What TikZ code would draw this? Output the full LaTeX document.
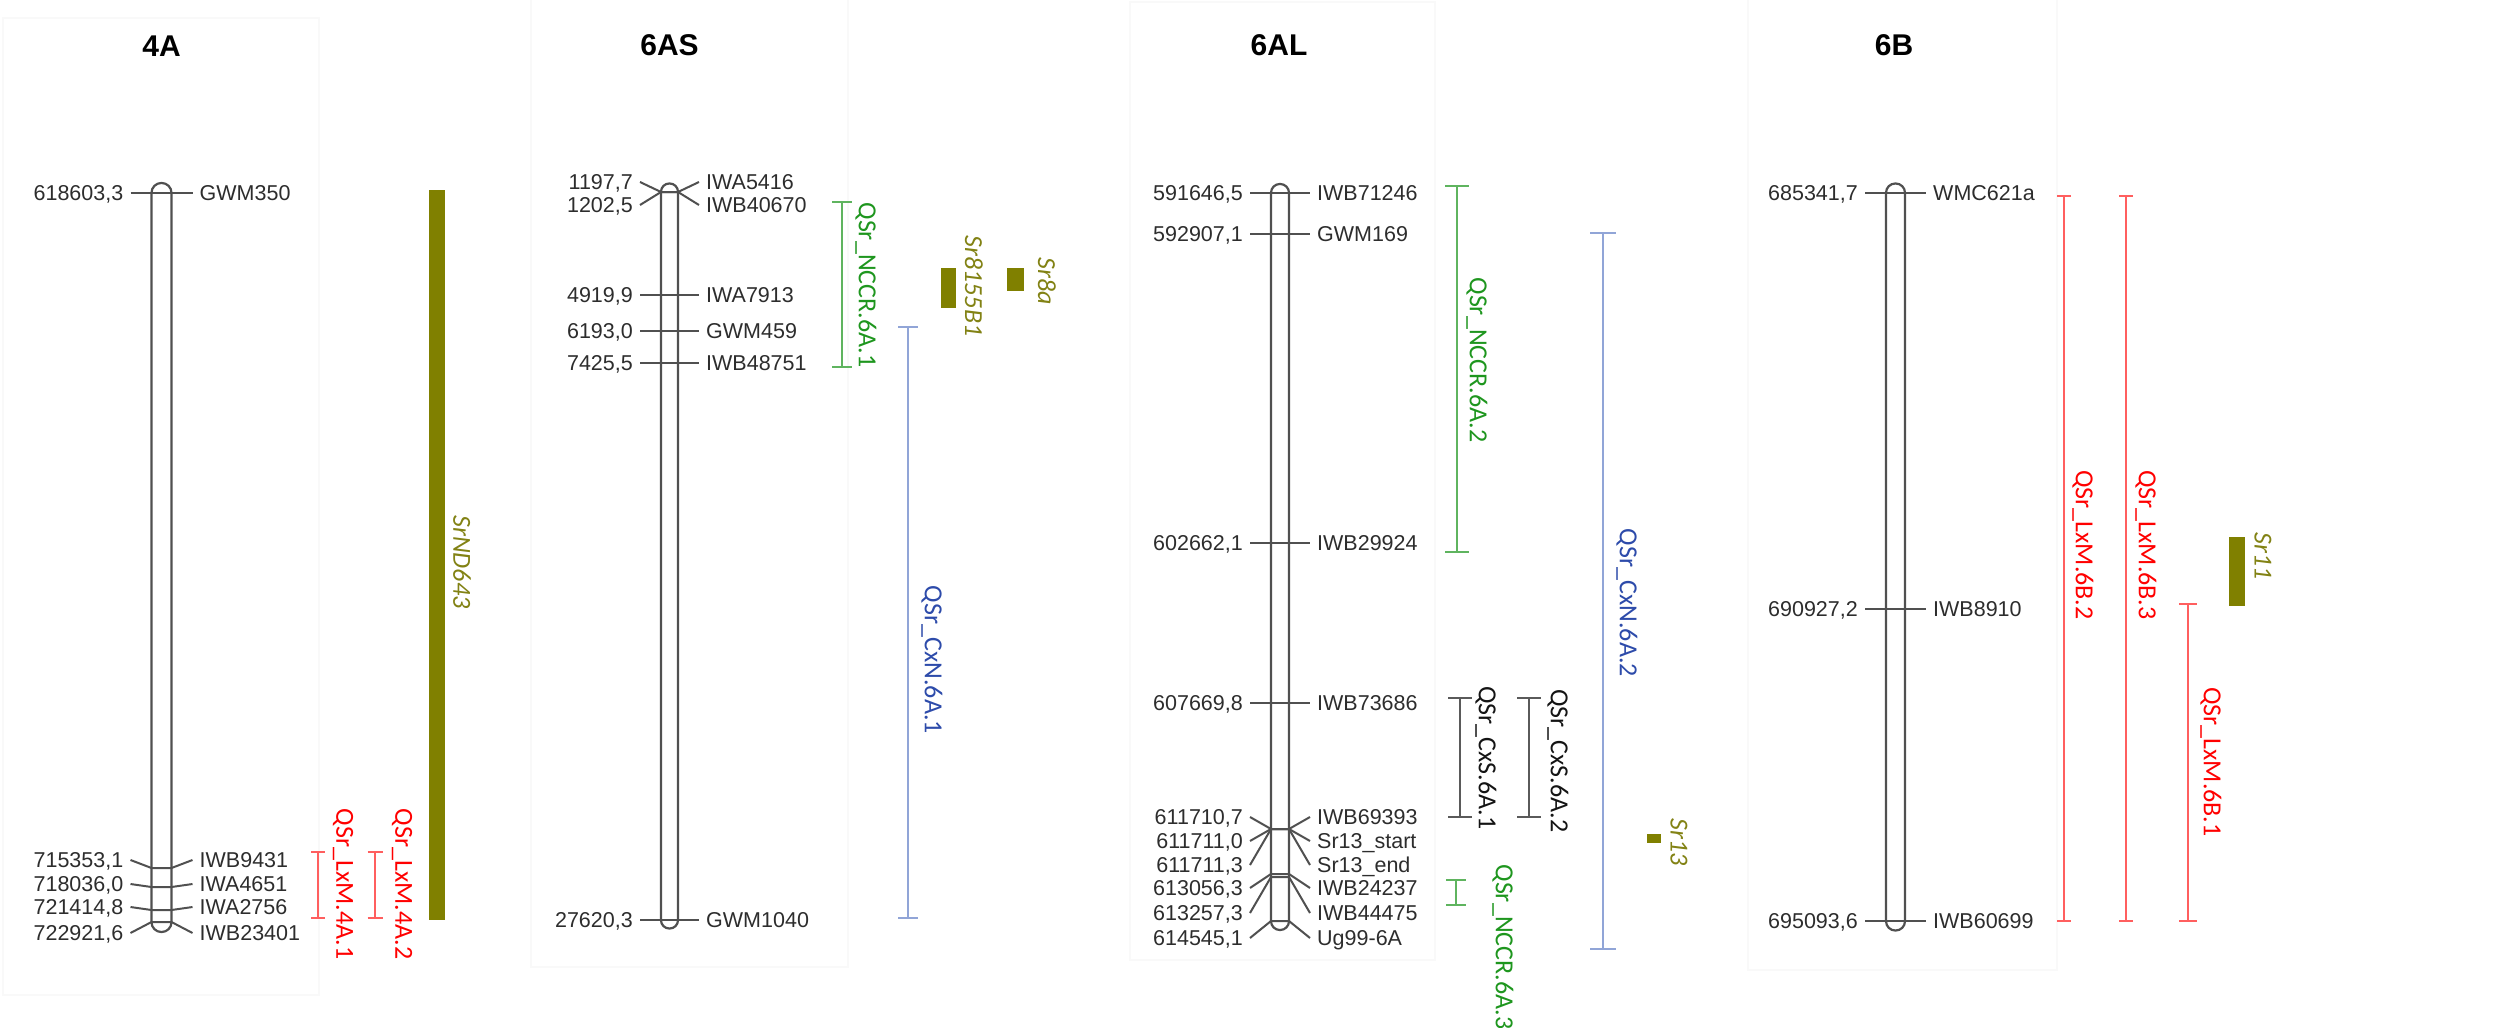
\documentclass[tikz,border=0pt]{standalone}
\usepackage{fontspec}
\setmainfont{Liberation Sans}
\newfontfamily\calib{Carlito}
\definecolor{olv}{RGB}{128,128,0}
\definecolor{olvtxt}{RGB}{130,130,20}
\definecolor{qred}{RGB}{255,0,0}
\definecolor{qredbar}{RGB}{255,95,95}
\definecolor{qgrn}{RGB}{30,150,30}
\definecolor{qgrnbar}{RGB}{95,180,95}
\definecolor{qblu}{RGB}{45,75,170}
\definecolor{qblubar}{RGB}{145,165,215}
\definecolor{qblk}{RGB}{20,20,20}
\definecolor{qblkbar}{RGB}{90,90,90}
\definecolor{mtxt}{RGB}{45,45,45}
\definecolor{chline}{RGB}{80,80,80}
\definecolor{panel}{RGB}{249,249,249}
\newcommand\mrk[5]{%
  \node[lbl, anchor=base east] (#1L) at ({\chx-\chw-\tkl-\tgp}, {#2+7.7}) {#4};
  \node[lbl, anchor=base west] (#1R) at ({\chx+\chw+\tkl+\tgp}, {#2+7.7}) {#5};
  \draw[tick] ([shift={(\tgp,-7.7)}]#1L.base east) -- (\chx-\chw,#3) -- (\chx+\chw,#3) -- ([shift={(-\tgp,-7.7)}]#1R.base west);
}
\newcommand\qtl[6]{%
  \coordinate (#1t) at (#2,#3);
  \coordinate (#1b) at (#2,#4);
  \draw[#6] (#1t) -- (#1b);
  \draw[#6] ([xshift=-#5pt]#1t) -- ([xshift=#5pt]#1t);
  \draw[#6] ([xshift=-#5pt]#1b) -- ([xshift=#5pt]#1b);
}
\begin{document}
\begin{tikzpicture}[x=1pt,y=-1pt,
  lbl/.style={font=\fontsize{21.5}{24}\selectfont, text=mtxt, inner sep=0pt},
  ttl/.style={font=\bfseries\fontsize{30}{34}\selectfont, inner sep=0pt},
  qlab/.style={font=\calib\fontsize{26}{30}\selectfont, rotate=-90, inner sep=0pt},
  slab/.style={font=\calib\itshape\fontsize{26}{30}\selectfont, rotate=-90, inner sep=0pt, text=olvtxt},
  tick/.style={draw=chline, line width=2pt},
  chrom/.style={draw=chline, line width=2.2pt},
  pbox/.style={draw=panel, line width=1.5pt},
  rbar/.style={draw=qredbar, line width=2pt},
  gbar/.style={draw=qgrnbar, line width=2pt},
  bbar/.style={draw=qblubar, line width=2pt},
  kbar/.style={draw=qblkbar, line width=2pt},
  gene/.style={fill=olv}]
\useasboundingbox (0,0) rectangle (2493,1028);
\fill[white] (0,0) rectangle (2493,1028);
% panels
\draw[pbox] (3,18) rectangle (319,995);
\draw[pbox] (531,-5) rectangle (848,967);
\draw[pbox] (1130,2) rectangle (1435,960);
\draw[pbox] (1748,-5) rectangle (2057,970);
\def\tkl{21}\def\tgp{7}
% ---------------- 4A
\node[ttl] (t4A) at (161.5,46.5) {4A};
\def\chx{161.5}\def\chw{10}
\draw[chrom, rounded corners=9.8pt] (\chx-\chw,183) rectangle (\chx+\chw,932);
\mrk{a1}{193}{193}{618603,3}{GWM350}
\mrk{a2}{860}{868}{715353,1}{IWB9431}
\mrk{a3}{884}{887}{718036,0}{IWA4651}
\mrk{a4}{907}{910}{721414,8}{IWA2756}
\mrk{a5}{933}{922}{722921,6}{IWB23401}
\fill[gene] (429,190) rectangle (445,920);
\node[slab] (gND) at (462,562) {SrND643};
\qtl{q41}{318}{852}{918}{7}{rbar}
\node[qlab, text=qred] (l41) at (343,884) {QSr\_LxM.4A.1};
\qtl{q42}{375}{852}{918}{7.5}{rbar}
\node[qlab, text=qred] (l42) at (402,884) {QSr\_LxM.4A.2};
% ---------------- 6AS
\node[ttl] (t6AS) at (669.5,45) {6AS};
\def\chx{669.5}\def\chw{8.5}
\draw[chrom, rounded corners=8.3pt] (\chx-\chw,183.5) rectangle (\chx+\chw,928.5);
\mrk{s1}{182}{192}{1197,7}{IWA5416}
\mrk{s2}{205}{192}{1202,5}{IWB40670}
\mrk{s3}{295}{295}{4919,9}{IWA7913}
\mrk{s4}{331}{331}{6193,0}{GWM459}
\mrk{s5}{363}{363}{7425,5}{IWB48751}
\mrk{s6}{920}{920}{27620,3}{GWM1040}
\qtl{qn1}{842}{202}{367}{10}{gbar}
\node[qlab, text=qgrn] (ln1) at (866,285) {QSr\_NCCR.6A.1};
\qtl{qc1}{908}{327}{918}{10}{bbar}
\node[qlab, text=qblu] (lc1) at (932,660) {QSr\_CxN.6A.1};
\fill[gene] (941,268) rectangle (956,308);
\node[slab] (g8155) at (974,286) {Sr8155B1};
\fill[gene] (1007,268) rectangle (1024,291);
\node[slab] (g8a) at (1047,281) {Sr8a};
% ---------------- 6AL
\node[ttl] (t6AL) at (1279,45) {6AL};
\def\chx{1280}\def\chw{9}
\draw[chrom, rounded corners=8.8pt] (\chx-\chw,184) rectangle (\chx+\chw,930);
\mrk{l1}{193}{193}{591646,5}{IWB71246}
\mrk{l2}{234}{234}{592907,1}{GWM169}
\mrk{l3}{543}{543}{602662,1}{IWB29924}
\mrk{l4}{703}{703}{607669,8}{IWB73686}
\mrk{l5}{817}{829}{611710,7}{IWB69393}
\mrk{l6}{841}{829}{611711,0}{Sr13\_start}
\mrk{l7}{865}{829}{611711,3}{Sr13\_end}
\mrk{l8}{888}{874}{613056,3}{IWB24237}
\mrk{l9}{913}{877}{613257,3}{IWB44475}
\mrk{l10}{938}{921}{614545,1}{Ug99-6A}
\qtl{qn2}{1457}{186}{552}{12}{gbar}
\node[qlab, text=qgrn] (ln2) at (1477,360) {QSr\_NCCR.6A.2};
\qtl{qc2}{1603}{233}{949}{13}{bbar}
\node[qlab, text=qblu] (lc2) at (1627,603) {QSr\_CxN.6A.2};
\qtl{qs1}{1460}{698}{817}{12}{kbar}
\node[qlab, text=qblk] (ls1) at (1486,758) {QSr\_CxS.6A.1};
\qtl{qs2}{1529}{698}{817}{12}{kbar}
\node[qlab, text=qblk] (ls2) at (1558,761) {QSr\_CxS.6A.2};
\qtl{qn3}{1456}{880}{905}{10}{gbar}
\node[qlab, text=qgrn] (ln3) at (1503,947) {QSr\_NCCR.6A.3};
\fill[gene] (1647,834) rectangle (1661,843);
\node[slab] (g13) at (1679,842) {Sr13};
% ---------------- 6B
\node[ttl] (t6B) at (1894,45) {6B};
\def\chx{1895.5}\def\chw{9.5}
\draw[chrom, rounded corners=9.3pt] (\chx-\chw,183.5) rectangle (\chx+\chw,930.5);
\mrk{b1}{193}{193}{685341,7}{WMC621a}
\mrk{b2}{609}{609}{690927,2}{IWB8910}
\mrk{b3}{921}{921}{695093,6}{IWB60699}
\qtl{qb2}{2064}{196}{921}{7}{rbar}
\node[qlab, text=qred] (lb2) at (2083,545) {QSr\_LxM.6B.2};
\qtl{qb3}{2126}{196}{921}{7}{rbar}
\node[qlab, text=qred] (lb3) at (2146,545) {QSr\_LxM.6B.3};
\qtl{qb1}{2188}{604}{921}{9}{rbar}
\node[qlab, text=qred] (lb1) at (2211,762) {QSr\_LxM.6B.1};
\fill[gene] (2229,537) rectangle (2245,606);
\node[slab] (g11) at (2263,556) {Sr11};
\end{tikzpicture}
\end{document}
